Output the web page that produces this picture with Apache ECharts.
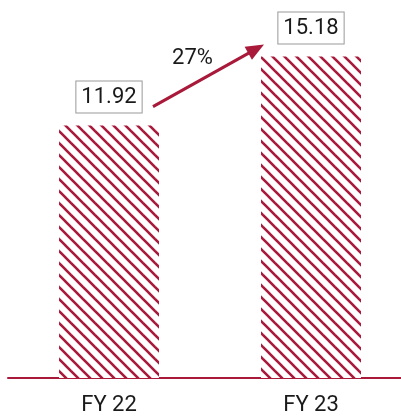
<!DOCTYPE html>
<html>
<head>
<meta charset="utf-8">
<script src="https://cdn.jsdelivr.net/npm/echarts@6/dist/echarts.min.js"></script>
<style>html,body{margin:0;padding:0;background:#fff}#c{width:401px;height:418px}</style>
</head>
<body>
<div id="c"></div>
<script>
const categories = ['FY 22', 'FY 23'];
const values = [11.92, 15.18];
const growthLabel = '27%';

const RED = '#A8193A';

function makePattern() {
  const s = 12;
  const cv = document.createElement('canvas');
  cv.width = s; cv.height = s;
  const ctx = cv.getContext('2d');
  ctx.fillStyle = '#fff';
  ctx.fillRect(0, 0, s, s);
  ctx.strokeStyle = RED;
  ctx.lineWidth = 2.6;
  [-s, 0, s].forEach(function (o) {
    ctx.beginPath();
    ctx.moveTo(o - 2, -2);
    ctx.lineTo(o + s + 2, s + 2);
    ctx.stroke();
  });
  return cv;
}

const chart = echarts.init(document.getElementById('c'), null, {renderer: 'canvas'});
const option = {
  animation: false,
  backgroundColor: '#fff',
  grid: {left: 8, width: 404, top: 18, bottom: 40, containLabel: false, outerBoundsMode: 'none'},
  xAxis: {
    type: 'category',
    data: categories,
    axisLine: {lineStyle: {color: RED, width: 2}},
    axisTick: {show: false},
    axisLabel: {color: '#1a1a1a', fontSize: 22, fontFamily: 'Roboto', margin: 16}
  },
  yAxis: {type: 'value', min: 0, max: 17, show: false, splitLine: {show: false}},
  series: [{
    type: 'bar',
    data: values,
    barWidth: 100,
    itemStyle: {color: {image: makePattern(), repeat: 'repeat'}},
    label: {
      show: true,
      position: 'top',
      distance: 13,
      fontSize: 22,
      fontFamily: 'Roboto',
      color: '#1a1a1a',
      borderColor: '#999',
      borderWidth: 1,
      padding: [5, 5, 4, 5],
      backgroundColor: '#fff',
      formatter: function (p) { return p.value.toFixed(2); }
    }
  }]
};
chart.setOption(option);

const p0 = chart.convertToPixel({seriesIndex: 0}, [0, values[0]]);
const p1 = chart.convertToPixel({seriesIndex: 0}, [1, values[1]]);
const sx = p0[0] + 44, sy = p0[1] - 19;
const ex = p1[0] - 47, ey = p1[1] - 12;
const dx = ex - sx, dy = ey - sy, len = Math.hypot(dx, dy);
const ux = dx / len, uy = dy / len;
const hl = 18, hw = 7.5;
const bx = ex - ux * hl, by = ey - uy * hl;
const mx = (sx + ex) / 2, my = (sy + ey) / 2;
chart.setOption({
  graphic: [
    {type: 'line', shape: {x1: sx, y1: sy, x2: bx + ux * 2, y2: by + uy * 2}, style: {stroke: RED, lineWidth: 3}},
    {type: 'polygon', shape: {points: [[ex, ey], [bx - uy * hw, by + ux * hw], [bx + uy * hw, by - ux * hw]]}, style: {fill: RED}},
    {type: 'text', x: mx - 16, y: my - 17, style: {text: growthLabel, fontSize: 22, fontFamily: 'Roboto', fill: '#1a1a1a', align: 'center', verticalAlign: 'middle'}}
  ]
});
</script>
</body>
</html>
